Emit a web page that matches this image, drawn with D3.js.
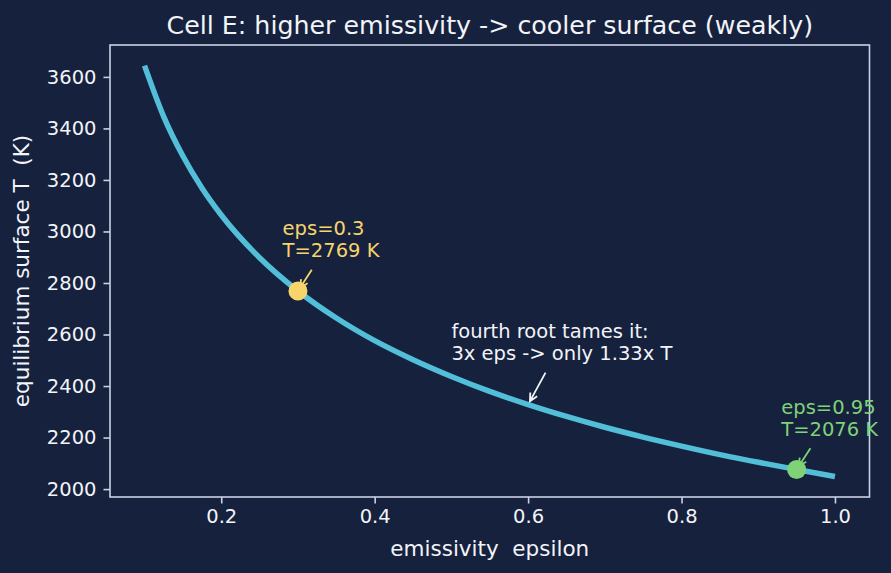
<!DOCTYPE html>
<html>
<head>
<meta charset="utf-8">
<script src="https://cdn.jsdelivr.net/npm/d3@7"></script>
<style>
	body { margin: 0; background: #16213e; }
	text { font-family: "DejaVu Sans", sans-serif; white-space: pre; }
</style>
</head>
<body>
<script>
//curve samples
var epsValues = [0.10, 0.125, 0.15, 0.175, 0.20, 0.25, 0.30, 0.35, 0.40, 0.45, 0.50,
	0.55, 0.60, 0.65, 0.70, 0.75, 0.80, 0.85, 0.90, 0.95, 1.00];
var tempValues = [3644, 3446, 3293, 3168, 3064, 2898, 2769, 2664, 2576, 2502, 2437,
	2379, 2328, 2282, 2240, 2202, 2167, 2134, 2104, 2076, 2049];

//highlighted points
var markEps = [0.3, 0.95];
var markTemp = [2769, 2076];
var markColors = ["#f7d46c", "#7fd277"];

//tick labels
var xTicks = [0.2, 0.4, 0.6, 0.8, 1.0];
var yTicks = [2000, 2200, 2400, 2600, 2800, 3000, 3200, 3400, 3600];

window.onload = function(){
	var w = 891, h = 573;
	var bg = "#16213e", fg = "#c9d1e4", txt = "#f2f4f8";

	var svg = d3.select("body")
		.append("svg")
		.attr("width", w)
		.attr("height", h)
		.style("background-color", bg);

	var x = d3.scaleLinear()
		.domain([0.055, 1.045])
		.range([110, 869.5]);

	var y = d3.scaleLinear()
		.domain([1969.3, 3723.8])
		.range([497, 45]);

	//axes
	var xAxis = svg.append("g")
		.attr("transform", "translate(0,497)")
		.call(d3.axisBottom(x).tickValues(xTicks).tickFormat(d3.format(".1f"))
			.tickSize(6.5).tickPadding(6).tickSizeOuter(0));
	var yAxis = svg.append("g")
		.attr("transform", "translate(110,0)")
		.call(d3.axisLeft(y).tickValues(yTicks).tickFormat(d3.format("d"))
			.tickSize(6.5).tickPadding(7).tickSizeOuter(0));

	[xAxis, yAxis].forEach(function(a){
		a.select(".domain").remove();
		a.selectAll(".tick line").attr("stroke", fg).attr("stroke-width", 1.6);
		a.selectAll(".tick text")
			.attr("fill", txt)
			.style("font-size", "19.5px")
			.style("font-family", "DejaVu Sans");
	});

	//frame
	svg.append("rect")
		.attr("x", 110)
		.attr("y", 45)
		.attr("width", 759.5)
		.attr("height", 452)
		.attr("fill", "none")
		.attr("stroke", fg)
		.attr("stroke-width", 1.6);

	//curve
	var line = d3.line()
		.x(function(d){ return x(d[0]); })
		.y(function(d){ return y(d[1]); })
		.curve(d3.curveMonotoneX);

	svg.append("path")
		.datum(d3.zip(epsValues, tempValues))
		.attr("d", line)
		.attr("fill", "none")
		.attr("stroke", "#52bed8")
		.attr("stroke-width", 5.5);

	//arrow from a text block to a target, like matplotlib's "->"
	function arrow(label, tx, ty, color){
		var b = label.node().getBBox();
		var pad = 3.9;
		var x0 = b.x - pad, x1 = b.x + b.width + pad;
		var y0 = b.y - pad, y1 = b.y + b.height + pad;
		var cx = (x0 + x1) / 2, cy = (y0 + y1) / 2;
		var dx = tx - cx, dy = ty - cy;
		var t = Math.min(
			dx !== 0 ? Math.abs((dx > 0 ? x1 - cx : cx - x0) / dx) : Infinity,
			dy !== 0 ? Math.abs((dy > 0 ? y1 - cy : cy - y0) / dy) : Infinity);
		var len = Math.sqrt(dx * dx + dy * dy);
		var ux = dx / len, uy = dy / len;
		var sx = cx + dx * t + ux * 3.9, sy = cy + dy * t + uy * 3.9;
		var ex = tx - ux * 3.9, ey = ty - uy * 3.9;
		var hl = 7.8, hw = 3.9;
		svg.append("path")
			.attr("d", "M" + sx + "," + sy + "L" + ex + "," + ey +
				"M" + (ex - ux * hl - uy * hw) + "," + (ey - uy * hl + ux * hw) +
				"L" + ex + "," + ey +
				"L" + (ex - ux * hl + uy * hw) + "," + (ey - uy * hl - ux * hw))
			.attr("fill", "none")
			.attr("stroke", color)
			.attr("stroke-width", 1.8);
	}

	//two-line annotation, last baseline at (ax, ay)
	function note(lines, ax, ay, color){
		var t = svg.append("text")
			.attr("fill", color)
			.style("font-size", "19.5px");
		lines.forEach(function(s, i){
			t.append("tspan")
				.attr("x", ax)
				.attr("y", ay - (lines.length - 1 - i) * 22.5)
				.text(s);
		});
		return t;
	}

	var mid = note(["fourth root tames it:", "3x eps -> only 1.33x T"], x(0.5), y(2500), txt);
	arrow(mid, x(0.6), y(2328), txt);

	//highlighted points and their labels
	markEps.forEach(function(e, i){
		var lab = note(["eps=" + e, "T=" + markTemp[i] + " K"],
			x(e - 0.02), y(markTemp[i] + 130), markColors[i]);
		svg.append("circle")
			.attr("cx", x(e))
			.attr("cy", y(markTemp[i]))
			.attr("r", 9.5)
			.attr("fill", markColors[i]);
		arrow(lab, x(e), y(markTemp[i]), markColors[i]);
	});

	//title and axis labels
	svg.append("text")
		.attr("x", 489.75)
		.attr("y", 34)
		.attr("text-anchor", "middle")
		.attr("fill", txt)
		.style("font-size", "25.3px")
		.text("Cell E: higher emissivity -> cooler surface (weakly)");

	svg.append("text")
		.attr("x", 489.75)
		.attr("y", 556)
		.attr("text-anchor", "middle")
		.attr("fill", txt)
		.style("font-size", "21.5px")
		.text("emissivity  epsilon");

	svg.append("text")
		.attr("transform", "translate(29,271) rotate(-90)")
		.attr("text-anchor", "middle")
		.attr("fill", txt)
		.style("font-size", "21.5px")
		.text("equilibrium surface T  (K)");
};
</script>
</body>
</html>
